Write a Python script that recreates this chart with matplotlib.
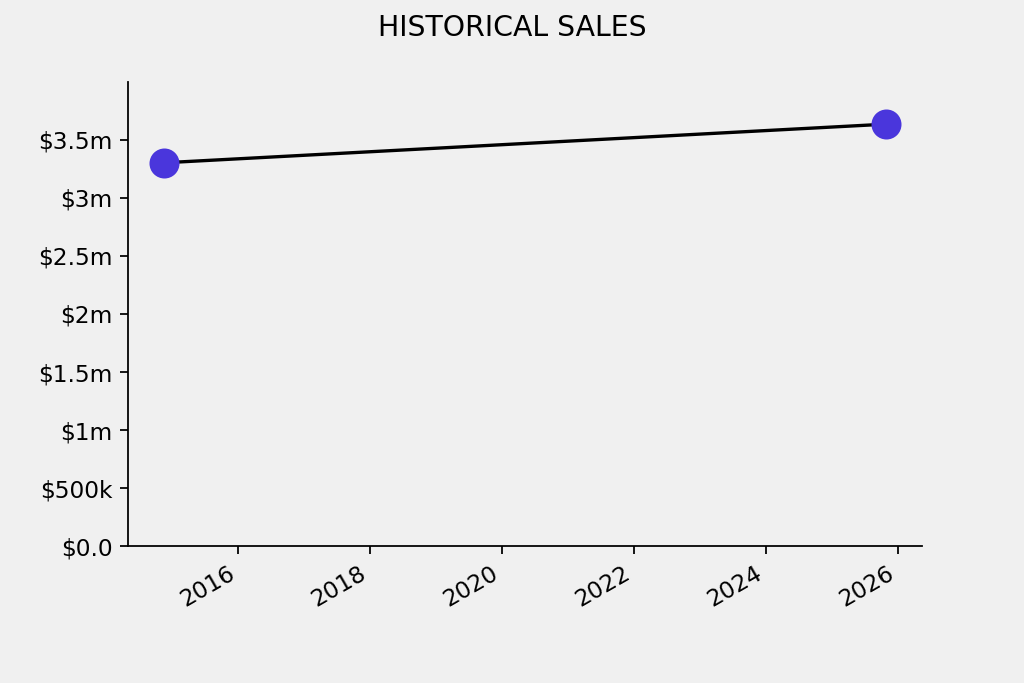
import numpy as np
import pandas as pd
import matplotlib
matplotlib.use("Agg")
import matplotlib.pyplot as plt
from matplotlib.ticker import FuncFormatter

dates = pd.to_datetime(["2014-11-15", "2025-10-24"])
sales = [3300000, 3632000]


def money(v, pos):
    if v == 0:
        return "$0.0"
    if v < 1e6:
        return f"${v / 1e3:g}k"
    return f"${v / 1e6:g}m"


fig, ax = plt.subplots(figsize=(6.4, 4.2688), dpi=160)
fig.patch.set_facecolor("#f0f0f0")
ax.set_facecolor("#f0f0f0")

ax.plot(dates, sales, color="black", lw=1.5, zorder=1)
ax.plot(dates, sales, "o", color="#4a36dc", ms=12.5, zorder=2)

ax.set_ylim(0, max(sales) * 1.1)
ax.yaxis.set_major_formatter(FuncFormatter(money))
ax.tick_params(labelsize=10.45)
ax.spines["top"].set_visible(False)
ax.spines["right"].set_visible(False)
fig.suptitle("HISTORICAL SALES", fontsize=12.75)
fig.autofmt_xdate()

plt.savefig("out.png", dpi=160, facecolor=fig.get_facecolor())
